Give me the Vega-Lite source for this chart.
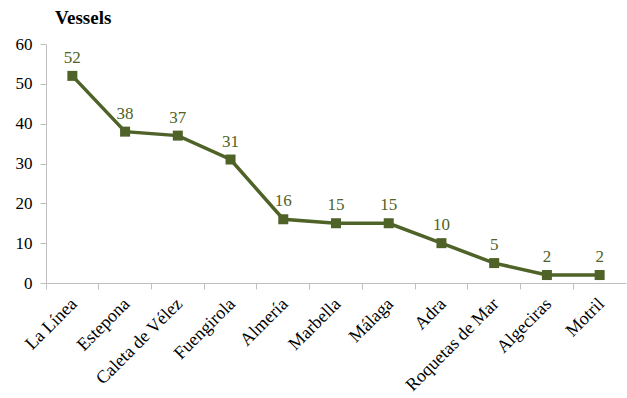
{
  "$schema": "https://vega.github.io/schema/vega-lite/v6.json",
  "width": 580,
  "height": 239,
  "autosize": {"type": "none"},
  "padding": {"left": 46, "top": 44, "right": 1, "bottom": 115},
  "background": "white",
  "title": {
    "text": "Vessels",
    "anchor": "start",
    "frame": "group",
    "font": "Liberation Serif",
    "fontSize": 19,
    "fontWeight": "bold",
    "color": "#000000",
    "dx": 9,
    "offset": 7
  },
  "config": {"view": {"stroke": null}},
  "data": {
    "values": [
      {"port": "La Línea", "vessels": 52},
      {"port": "Estepona", "vessels": 38},
      {"port": "Caleta de Vélez", "vessels": 37},
      {"port": "Fuengirola", "vessels": 31},
      {"port": "Almería", "vessels": 16},
      {"port": "Marbella", "vessels": 15},
      {"port": "Málaga", "vessels": 15},
      {"port": "Adra", "vessels": 10},
      {"port": "Roquetas de Mar", "vessels": 5},
      {"port": "Algeciras", "vessels": 2},
      {"port": "Motril", "vessels": 2}
    ]
  },
  "encoding": {
    "x": {
      "field": "port",
      "type": "ordinal",
      "sort": null,
      "scale": {"type": "band", "paddingInner": 0, "paddingOuter": 0},
      "axis": {
        "title": null,
        "labelAngle": -45,
        "labelAlign": "right",
        "labelBaseline": "middle",
        "labelFont": "Liberation Serif",
        "labelFontSize": 18,
        "labelColor": "#000000",
        "labelPadding": 12,
        "domainColor": "#BFBFBF",
        "tickColor": "#BFBFBF",
        "tickSize": 6,
        "bandPosition": 0,
        "labelOffset": 2,
        "grid": false
      }
    },
    "y": {
      "field": "vessels",
      "type": "quantitative",
      "scale": {"domain": [0, 60], "nice": false},
      "axis": {
        "title": null,
        "values": [0, 10, 20, 30, 40, 50, 60],
        "labelFont": "Liberation Serif",
        "labelFontSize": 17,
        "labelColor": "#000000",
        "labelPadding": 8,
        "domainColor": "#BFBFBF",
        "tickColor": "#BFBFBF",
        "tickSize": 6,
        "grid": false
      }
    }
  },
  "layer": [
    {
      "mark": {"type": "line", "color": "#4F6228", "strokeWidth": 3.5, "point": {"shape": "square", "size": 100, "color": "#4F6228", "filled": true, "opacity": 1}}
    },
    {
      "mark": {"type": "text", "color": "#4F6228", "font": "Liberation Serif", "fontSize": 17, "dy": -18},
      "encoding": {"text": {"field": "vessels", "type": "quantitative"}}
    }
  ]
}
